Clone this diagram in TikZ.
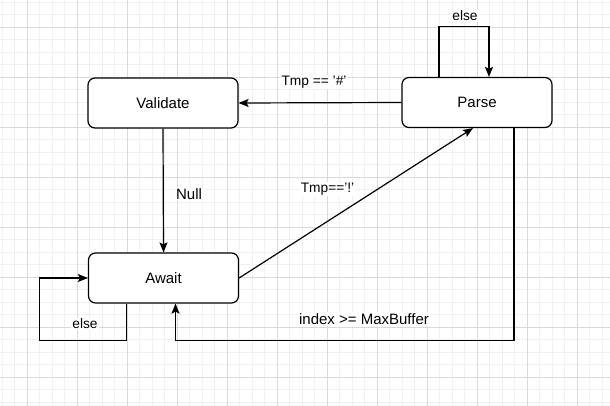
\documentclass[tikz,border=0pt]{standalone}
\usepackage{fontspec}
\setmainfont{Liberation Sans}
\usepackage{tikz}
\usetikzlibrary{positioning,calc,arrows.meta}

\begin{document}
\begin{tikzpicture}[x=1pt,y=-1pt,auto]
                        \tikzstyle{every node}=[inner sep=0,font=\fontsize{15}{18}\selectfont]
                        \tikzstyle{state}=[draw,fill=white,rounded corners=7,line width=1.2,minimum width=150,minimum height=50]
                        \tikzstyle{note}=[fill=white,inner sep=1,font=\fontsize{13.75}{16}\selectfont]
                        \tikzstyle{plain}=[fill=white,inner sep=1]
                        \tikzstyle{wire}=[line width=1.2,->,>={Stealth[length=10pt,width=8pt,inset=2pt]}]
                        \tikzstyle{minorline}=[line width=0.8,color=black!6]
                        \tikzstyle{majorline}=[line width=0.8,color=black!15]
                        {
                            \useasboundingbox (0,0) rectangle (610,406);
                            \fill[white] (0,0) rectangle (610,406);
                            % background grid
                            \foreach \x in {2,14.5,...,609} {
                                \draw[minorline] (\x,0) -- (\x,406);
                            }
                            \foreach \y in {2,14.5,...,405} {
                                \draw[minorline] (0,\y) -- (610,\y);
                            }
                            \foreach \x in {27,77,...,577} {
                                \draw[majorline] (\x,0) -- (\x,406);
                            }
                            \foreach \y in {27,77,...,377} {
                                \draw[majorline] (0,\y) -- (610,\y);
                            }

                            \node[state] (validate) at (163, 103) {Validate};
                            \node[state] (parse) at (477, 102.5) {Parse};
                            \node[state] (await) at (163.5, 278) {Await};

                            \draw[wire] (parse.west) -- (validate.east);
                            \draw[wire] (validate.south) -- (await.north);
                            \draw[wire] (await.east) -- ([xshift=-4]parse.south);
                            \draw[wire] ([xshift=-38]parse.north) -- ++(0,-50) -| ([xshift=12]parse.north);
                            \draw[wire] ([xshift=37]parse.south) -- ++(0,212) -| ([xshift=12]await.south);
                            \draw[wire] ([xshift=-37]await.south) -- ++(0,37) -- ++(-87,0) |- (await.west);

                            \node[note] (elsetop) at (465, 16) {else};
                            \node[note] (hash) at (314, 82) {Tmp == '\#'};
                            \node[plain] (null) at (189, 194) {Null};
                            \node[note] (bang) at (327.5, 189) {Tmp=='!'};
                            \node[plain] (maxbuf) at (364, 319) {index >= MaxBuffer};
                            \node[note] (elsebot) at (85, 324) {else};
                        }
                    \end{tikzpicture}
\end{document}
